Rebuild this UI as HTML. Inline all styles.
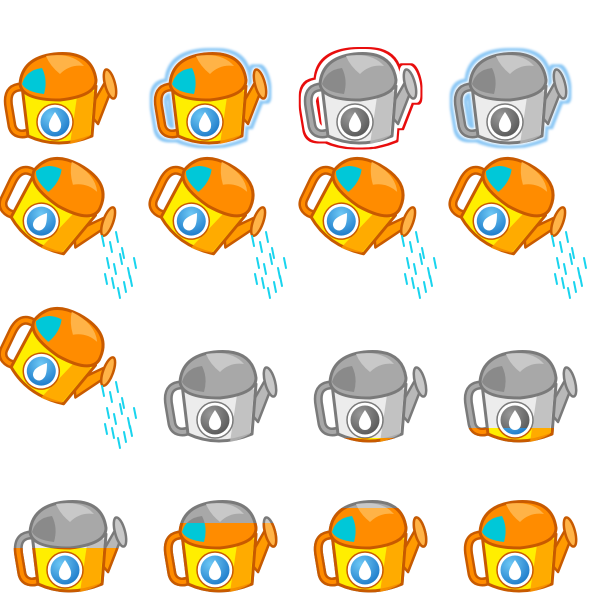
<!DOCTYPE html>
<html><head><meta charset="utf-8"><style>
html,body{margin:0;padding:0;background:#fff;}
svg{display:block;}
</style></head><body>
<svg id="sheet" width="600" height="600" viewBox="0 0 600 600" xmlns="http://www.w3.org/2000/svg">
<defs>
<radialGradient id="blueG" cx="0.35" cy="0.3" r="0.8"><stop offset="0" stop-color="#6ec8f5"/><stop offset="1" stop-color="#1a78c8"/></radialGradient>
<radialGradient id="grayG" cx="0.35" cy="0.3" r="0.8"><stop offset="0" stop-color="#999"/><stop offset="1" stop-color="#555"/></radialGradient>
<filter id="glowBlue" x="-20%" y="-20%" width="140%" height="140%"><feMorphology in="SourceAlpha" operator="dilate" radius="4" result="d"/><feMorphology in="SourceAlpha" operator="dilate" radius="1" result="d2"/><feComposite in="d" in2="d2" operator="out" result="ring"/><feFlood flood-color="#8cc8f5"/><feComposite in2="ring" operator="in" result="o"/><feGaussianBlur in="o" stdDeviation="1" result="b"/><feMerge><feMergeNode in="b"/><feMergeNode in="SourceGraphic"/></feMerge></filter>
<filter id="glowRed" x="-20%" y="-20%" width="140%" height="140%"><feMorphology in="SourceAlpha" operator="dilate" radius="5" result="d"/><feMorphology in="SourceAlpha" operator="dilate" radius="3" result="d2"/><feComposite in="d" in2="d2" operator="out" result="ring"/><feFlood flood-color="#e81010"/><feComposite in2="ring" operator="in" result="o"/><feMerge><feMergeNode in="o"/><feMergeNode in="SourceGraphic"/></feMerge></filter>
</defs>
<g id="root"></g>
</svg>
<script>
// fill levels for upright cans (0 = empty gray, 1 = full colour)
const uprightLevels = [1, 1, 0, 0, 0, 0.1, 0.2, 0.5, 0.75, 0.9, 1];
const uprightCols = [0, 1, 2, 3, 1, 2, 3, 0, 1, 2, 3];
const uprightRows = [0, 0, 0, 0, 2, 2, 2, 3, 3, 3, 3];
const uprightOutline = ['none', 'glowBlue', 'glowRed', 'glowBlue', 'none', 'none', 'none', 'none', 'none', 'none', 'none'];
const pourCols = [0, 1, 2, 3, 0];
const pourRows = [1, 1, 1, 1, 2];

const NS = 'http://www.w3.org/2000/svg';
const root = document.getElementById('root');
const rowY = [0, 100, 298, 448];
const pourY = [0, 98, 248];
const colX = [0, 150, 300, 450];

const COL = {stroke:'#c85a00', lid:'#ff8c00', lidL:'#ffb347', body:'#ffee00', shade:'#ff9a00', hole:'#00c8d8', badge:'url(#blueG)'};
const GRAY = {stroke:'#7a7a7a', lid:'#a8a8a8', lidL:'#c8c8c8', body:'#ececec', shade:'#b8b8b8', hole:'#8a8a8a', badge:'url(#grayG)'};

function canMarkup(p){
  return `
  <path d="M30 88 C12 84 6 92 9 108 L12 126 C14 134 22 136 30 132" fill="none" stroke="${p.stroke}" stroke-width="9" stroke-linecap="round"/>
  <path d="M30 88 C12 84 6 92 9 108 L12 126 C14 134 22 136 30 132" fill="none" stroke="${p.lid}" stroke-width="4" stroke-linecap="round"/>
  <path d="M88 112 L104 84 L112 88 L98 124 Z" fill="${p.shade}" stroke="${p.stroke}" stroke-width="2.5" stroke-linejoin="round"/>
  <ellipse cx="110" cy="84" rx="5" ry="15" transform="rotate(-15 110 84)" fill="${p.lidL}" stroke="${p.stroke}" stroke-width="2.5"/>
  <path d="M22 86 Q58 74 96 86 L92 136 Q58 150 28 136 Z" fill="${p.body}" stroke="${p.stroke}" stroke-width="3" stroke-linejoin="round"/>
  <path d="M78 90 Q94 90 94 92 L90 136 Q80 142 70 144 Z" fill="${p.shade}" opacity="0.8"/>
  <path d="M20 84 Q22 58 54 54 Q92 50 96 80 Q96 96 60 100 Q22 100 20 84 Z" fill="${p.lid}" stroke="${p.stroke}" stroke-width="3"/>
  <path d="M46 56 Q72 52 84 66 Q70 64 60 74 Q50 66 46 56 Z" fill="${p.lidL}"/>
  <path d="M22 84 Q26 70 42 68 Q48 80 44 94 Q26 92 22 84 Z" fill="${p.hole}"/>
  <circle cx="55" cy="122" r="18" fill="#fff" stroke="${p.stroke}" stroke-width="1.5"/>
  <circle cx="55" cy="122" r="14.5" fill="${p.badge}"/>
  <path d="M55 112 Q62 122 61 126 A6 6 0 0 1 49 126 Q48 122 55 112 Z" fill="#fff"/>`;
}

function el(tag, attrs){ const e=document.createElementNS(NS,tag); for(const k in attrs) e.setAttribute(k,attrs[k]); return e; }

uprightLevels.forEach((lvl,i)=>{
  const g = el('g',{transform:`translate(${colX[uprightCols[i]] + (uprightRows[i]>=2?10:0)},${rowY[uprightRows[i]]})`});
  
  
  if(uprightOutline[i]!=='none') g.setAttribute('filter', `url(#${uprightOutline[i]})`);
  if(lvl<1){ const gg=el('g',{}); gg.innerHTML=canMarkup(GRAY); g.appendChild(gg); }
  if(lvl>0){
    const id='clip'+i;
    const cp=el('clipPath',{id}); const top=150-lvl*100;
    cp.appendChild(el('rect',{x:0,y:top,width:130,height:160-top+10}));
    g.appendChild(cp);
    const cg=el('g',{'clip-path':`url(#${id})`}); cg.innerHTML=canMarkup(COL); g.appendChild(cg);
  }
  root.appendChild(g);
});

// water drop streaks relative to spout
const dropDx = [0,8,14,20,5,12,18,26,10,22,3,16,28,32];
const dropDy = [8,14,4,20,30,36,26,40,50,54,46,60,48,30];
pourCols.forEach((c,i)=>{
  const ox=colX[c], oy=pourY[pourRows[i]];
  const g = el('g',{});
  
  
  const cg=el('g',{transform:`translate(${ox-2},${oy+8}) rotate(35 60 100)`}); cg.innerHTML=canMarkup(COL); g.appendChild(cg);
  const w=el('g',{});  
  dropDx.forEach((dx,j)=>{
    const x=ox+102+dx, y=oy+130+dropDy[j];
    w.appendChild(el('line',{x1:x,y1:y,x2:x+2,y2:y+10,stroke:'#19d4ee','stroke-width':2,'stroke-linecap':'round'}));
  });
  g.appendChild(w);
  root.appendChild(g);
});
</script>
</body></html>
